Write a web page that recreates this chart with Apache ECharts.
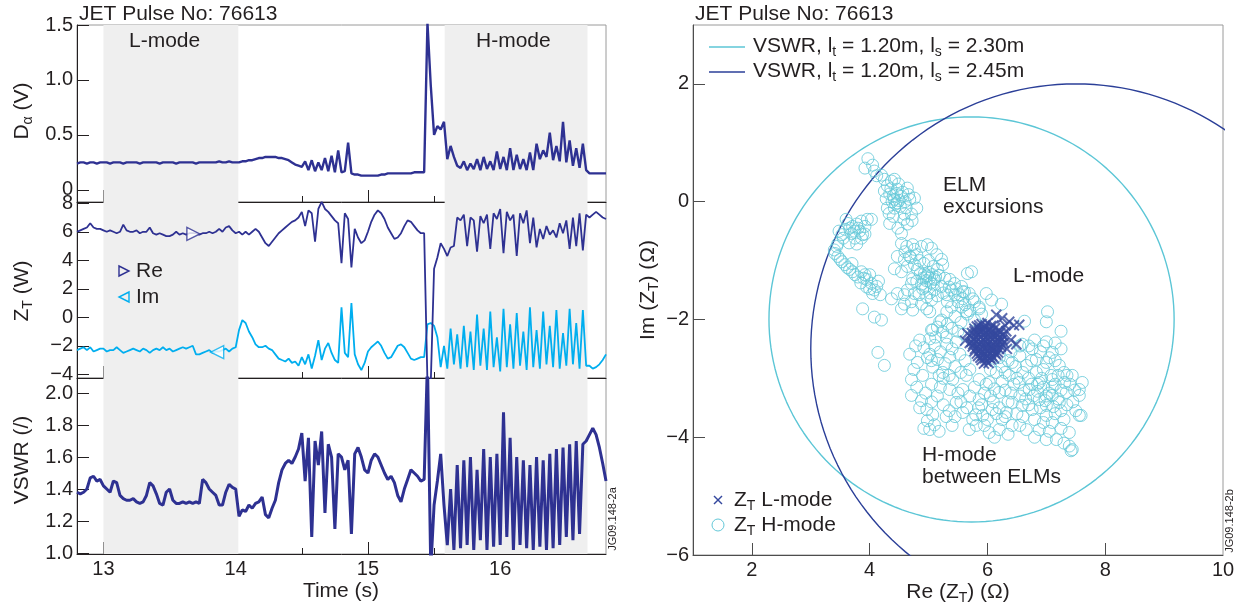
<!DOCTYPE html>
<html>
<head>
<meta charset="utf-8">
<script src="https://cdn.jsdelivr.net/npm/echarts@6/dist/echarts.min.js"></script>
<style>
  html, body { margin: 0; padding: 0; background: #fff; }
  #chart { width: 1247px; height: 612px; }
</style>
</head>
<body>
<div id="chart"></div>
<script>
// time base of the left-hand traces (s)
const T0 = 12.8
const DT = 0.025

// D-alpha (V), one value per DT
const dalpha = [
  0.24, 0.25, 0.25, 0.24, 0.25, 0.25, 0.24, 0.25,
  0.25, 0.25, 0.24, 0.25, 0.25, 0.25, 0.24, 0.25,
  0.25, 0.25, 0.25, 0.24, 0.25, 0.25, 0.25, 0.25,
  0.25, 0.24, 0.25, 0.25, 0.25, 0.25, 0.24, 0.25,
  0.25, 0.25, 0.25, 0.25, 0.24, 0.25, 0.25, 0.25,
  0.25, 0.25, 0.25, 0.26, 0.25, 0.25, 0.26, 0.25,
  0.25, 0.25, 0.26, 0.26, 0.27, 0.27, 0.28, 0.29,
  0.29, 0.30, 0.30, 0.30, 0.30, 0.29, 0.29, 0.28,
  0.27, 0.25, 0.23, 0.22, 0.21, 0.26, 0.18, 0.27,
  0.17, 0.25, 0.18, 0.29, 0.17, 0.31, 0.16, 0.36,
  0.16, 0.17, 0.43, 0.15, 0.14, 0.14, 0.13, 0.13,
  0.13, 0.13, 0.13, 0.13, 0.14, 0.14, 0.15, 0.15,
  0.15, 0.15, 0.15, 0.15, 0.15, 0.15, 0.16, 0.16,
  0.16, 0.16, 1.52, 0.95, 0.50, 0.58, 0.55, 0.62,
  0.28, 0.40, 0.30, 0.22, 0.20, 0.26, 0.18, 0.24,
  0.19, 0.28, 0.18, 0.30, 0.19, 0.26, 0.18, 0.35,
  0.19, 0.30, 0.18, 0.38, 0.18, 0.32, 0.19, 0.28,
  0.18, 0.34, 0.18, 0.42, 0.28, 0.36, 0.30, 0.52,
  0.27, 0.40, 0.26, 0.62, 0.25, 0.45, 0.22, 0.38,
  0.20, 0.42, 0.18, 0.15, 0.15, 0.15, 0.15, 0.15,
  0.15
]

// Re(Z_T)
const zRe = [
  6.0, 6.1, 6.2, 6.3, 6.6, 6.3, 6.2, 6.2,
  6.1, 6.0, 6.1, 6.0, 5.9, 6.0, 6.5, 6.1,
  6.0, 6.0, 6.1, 5.9, 6.0, 6.0, 6.3, 5.9,
  5.8, 5.9, 5.8, 5.7, 5.7, 5.8, 6.0, 5.8,
  5.9, 5.8, 5.9, 5.9, 5.9, 5.8, 5.9, 5.9,
  6.0, 5.9, 6.0, 6.2, 6.0, 6.3, 6.4, 6.1,
  5.9, 6.0, 5.8, 6.0, 5.8, 6.0, 6.2, 6.0,
  5.6, 5.2, 5.0, 5.3, 5.6, 5.9, 6.1, 6.3,
  6.5, 6.7, 6.8, 7.0, 7.4, 6.4, 7.5, 7.3,
  5.3, 7.6, 8.1, 7.6, 7.4, 7.1, 6.8, 6.6,
  3.8, 7.3, 6.9, 3.5, 6.2, 5.6, 5.2, 5.4,
  6.0, 6.7, 7.2, 7.5, 7.3, 6.9, 6.3, 5.9,
  5.5, 5.6, 5.9, 6.4, 6.8, 6.7, 6.4, 6.1,
  5.9, 5.9, -4.6, -4.6, 3.4, 4.2, 5.2, 4.8,
  4.3, 4.9, 5.0, 7.0, 6.8, 7.2, 5.0, 7.0,
  6.8, 4.6, 7.1, 6.6, 7.2, 4.8, 7.3, 6.9,
  7.6, 4.5, 7.4, 6.8, 7.2, 4.3, 7.3, 6.6,
  7.5, 5.2, 7.0, 4.9, 6.2, 5.5, 6.4, 5.8,
  6.1, 5.6, 6.6, 5.9, 6.8, 4.8, 7.0, 5.0,
  7.3, 4.7, 7.2, 7.0, 7.2, 7.4, 7.2, 7.0,
  6.9
]

// Im(Z_T)
const zIm = [
  -2.3, -2.2, -2.1, -2.3, -2.1, -2.4, -2.3, -2.2,
  -2.2, -2.4, -2.3, -2.3, -2.1, -2.3, -2.5, -2.4,
  -2.3, -2.2, -2.3, -2.4, -2.2, -2.3, -2.5, -2.3,
  -2.2, -2.3, -2.1, -2.3, -2.2, -2.4, -2.3, -2.2,
  -2.1, -2.2, -2.1, -2.0, -2.6, -2.6, -2.5, -2.4,
  -2.3, -2.5, -2.4, -2.4, -2.3, -2.2, -2.4, -2.2,
  -2.1, -0.9, -0.2, -0.4, -1.0, -1.4, -1.9, -2.1,
  -2.1, -2.0, -2.2, -2.3, -2.6, -2.9, -3.0, -3.1,
  -2.9, -3.2, -3.1, -3.4, -2.8, -3.3, -2.6, -3.6,
  -2.7, -1.6, -3.0, -2.2, -1.8, -2.5, -3.0, -3.2,
  0.7, -2.5, -2.8, 1.0, -2.6, -3.3, -3.7, -3.2,
  -2.4, -2.1, -1.9, -1.7, -2.0, -2.5, -2.9, -2.8,
  -2.4, -2.0, -1.9, -2.1, -2.5, -2.9, -3.0, -2.9,
  -2.8, -2.8, -0.5, -0.4, -0.6, -1.4, -3.5, -2.0,
  -3.6, -0.8, -3.3, -1.2, -3.6, -0.6, -3.5, -1.0,
  -3.7, 0.2, -3.4, -0.8, -3.7, 0.4, -3.5, -1.4,
  -3.8, 0.6, -3.5, -0.5, -3.6, 0.3, -3.4, -1.0,
  -3.7, 0.7, -3.5, -0.9, -3.6, 0.4, -3.3, -0.6,
  -3.5, 0.5, -3.6, -1.1, -3.4, 0.6, -3.3, -0.4,
  -3.6, 0.5, -3.4, -3.4, -3.6, -3.5, -3.3, -3.0,
  -2.6
]

// VSWR
const vswr = [
  1.38, 1.37, 1.38, 1.40, 1.47, 1.48, 1.45, 1.46,
  1.42, 1.40, 1.38, 1.45, 1.44, 1.36, 1.34, 1.33,
  1.33, 1.34, 1.32, 1.31, 1.32, 1.36, 1.44, 1.42,
  1.37, 1.31, 1.30, 1.38, 1.40, 1.33, 1.31, 1.31,
  1.32, 1.31, 1.32, 1.31, 1.32, 1.31, 1.46, 1.44,
  1.40, 1.38, 1.36, 1.30, 1.30, 1.38, 1.43, 1.41,
  1.40, 1.23, 1.27, 1.26, 1.30, 1.28, 1.31, 1.32,
  1.35, 1.24, 1.22, 1.28, 1.33, 1.44, 1.52, 1.56,
  1.58, 1.56, 1.60, 1.65, 1.75, 1.45, 1.72, 1.10,
  1.70, 1.55, 1.76, 1.25, 1.68, 1.60, 1.15, 1.62,
  1.60, 1.52, 1.58, 1.12, 1.62, 1.66, 1.60, 1.52,
  1.50, 1.58, 1.62, 1.60, 1.55, 1.50, 1.46, 1.48,
  1.44, 1.36, 1.32, 1.40, 1.46, 1.52, 1.50, 1.48,
  1.45, 1.46, 2.20, 0.90, 1.30, 1.45, 1.62, 1.30,
  1.05, 1.40, 1.02, 1.55, 1.03, 1.58, 1.05, 1.60,
  1.02, 1.52, 1.08, 1.65, 1.02, 1.60, 1.04, 1.62,
  1.05, 1.88, 1.10, 1.72, 1.02, 1.60, 1.05, 1.58,
  1.03, 1.55, 1.02, 1.60, 1.04, 1.58, 1.02, 1.62,
  1.03, 1.65, 1.05, 1.66, 1.10, 1.68, 1.08, 1.70,
  1.12, 1.68, 1.70, 1.74, 1.78, 1.74, 1.66, 1.56,
  1.45
]

// L-mode / H-mode windows (s)
const modeSpans = [[13.0, 14.02], [15.58, 16.66]]
const reMarker = [[13.68, 5.85]]
const imMarker = [[13.86, -2.45]]

const timeMajor = [13, 14, 15, 16]
const timeMinor = [13.5, 14.5, 15.5, 16.5]
const dalphaTicks = [0, 0.5, 1.0, 1.5]
const zTicks = [-4, -2, 0, 2, 4, 6, 8]
const vswrTicks = [1.0, 1.2, 1.4, 1.6, 1.8, 2.0]

// right panel: impedance plane
const reTicks = [2, 4, 6, 8, 10]
const imTicks = [-6, -4, -2, 0, 2]
const vswrCircles = [
  { name: 'ls230', cx: 5.73, cy: -2.0, r: 3.44, color: '#5cc6d6' },
  { name: 'ls245', cx: 7.5, cy: -2.5, r: 4.5, color: '#2b3f98' }
]

const lmodePoints = [
  [5.90, -2.08], [6.00, -2.06], [6.10, -2.10], [5.82, -2.12],
  [5.78, -2.16], [5.86, -2.15], [5.95, -2.14], [6.04, -2.16], [6.13, -2.15], [6.20, -2.18],
  [5.74, -2.23], [5.82, -2.22], [5.90, -2.21], [5.98, -2.23], [6.06, -2.22], [6.14, -2.24], [6.22, -2.22],
  [5.72, -2.30], [5.80, -2.29], [5.88, -2.31], [5.96, -2.30], [6.04, -2.29], [6.12, -2.31], [6.20, -2.30], [6.27, -2.28],
  [5.73, -2.38], [5.81, -2.37], [5.89, -2.39], [5.97, -2.38], [6.05, -2.37], [6.13, -2.39], [6.21, -2.38], [6.28, -2.40],
  [5.75, -2.46], [5.83, -2.45], [5.91, -2.47], [5.99, -2.46], [6.07, -2.45], [6.15, -2.47], [6.23, -2.46],
  [5.78, -2.54], [5.86, -2.53], [5.94, -2.55], [6.02, -2.54], [6.10, -2.53], [6.18, -2.56],
  [5.84, -2.62], [5.92, -2.61], [6.00, -2.63], [6.08, -2.62], [6.15, -2.60],
  [5.90, -2.69], [5.98, -2.71], [6.06, -2.68],
  [5.85, -2.26], [5.93, -2.34], [6.01, -2.42], [6.09, -2.50], [5.87, -2.42], [6.17, -2.34],
  [5.95, -2.58], [6.03, -2.19], [5.77, -2.34], [6.25, -2.34],
  [5.78, -2.20], [5.86, -2.19], [5.94, -2.18], [6.02, -2.27], [6.10, -2.26], [6.18, -2.26], [5.76, -2.42],
  [5.84, -2.34], [5.92, -2.26], [6.00, -2.34], [6.08, -2.33], [6.16, -2.42], [6.24, -2.42], [5.79, -2.50],
  [5.88, -2.50], [5.96, -2.50], [6.04, -2.50], [6.12, -2.49], [6.20, -2.50], [5.82, -2.58], [5.90, -2.57],
  [6.06, -2.58], [6.13, -2.57], [5.88, -2.65], [5.96, -2.66], [6.04, -2.65], [6.11, -2.66], [5.94, -2.75],
  [6.02, -2.74], [5.97, -2.10], [6.06, -2.11], [5.86, -2.10], [6.26, -2.26], [5.70, -2.40],
  [6.15, -1.92], [6.25, -1.98], [6.37, -2.04], [6.54, -2.09], [6.45, -2.10], [6.30, -2.10],
  [6.49, -2.42], [6.40, -2.35], [6.33, -2.50], [5.66, -2.24], [5.62, -2.36], [6.32, -2.20]
]

const hmodePoints = [
  [3.97, 0.73], [3.92, 0.57], [4.08, 0.52], [4.12, 0.44], [4.25, 0.38], [4.37, 0.35], [4.42, 0.38],
  [4.30, 0.27], [4.34, 0.13], [4.47, 0.21], [4.42, 0.04], [4.47, -0.02], [4.54, 0.09], [4.64, 0.23],
  [4.68, 0.04], [4.76, 0.06], [4.80, -0.11], [4.30, -0.11], [4.42, -0.11], [4.59, -0.21], [4.71, -0.21],
  [4.34, -0.37], [4.64, -0.38], [4.54, -0.54], [4.03, -0.30],
  [4.40, 0.10], [4.44, -0.04], [4.50, 0.02], [4.38, 0.00], [4.46, 0.14], [4.52, -0.08], [4.36, 0.22],
  [4.56, 0.16], [4.28, 0.05], [4.60, 0.00], [4.49, 0.30], [4.33, -0.20],
  [4.58, -0.30], [4.48, -0.45], [4.62, -0.10], [4.72, -0.32], [4.66, 0.12], [4.40, -0.25], [4.25, 0.18],
  [4.20, 0.45], [4.05, 0.62],
  [3.63, -0.37], [3.71, -0.42], [3.78, -0.38], [3.86, -0.33], [3.92, -0.42], [3.83, -0.50], [3.88, -0.56],
  [3.69, -0.54], [3.58, -0.47], [3.53, -0.56], [3.75, -0.62], [3.86, -0.62], [3.46, -0.71], [3.44, -0.76],
  [3.66, -0.45], [3.80, -0.45], [3.74, -0.50], [3.96, -0.30],
  [3.55, -0.62], [3.65, -0.70], [3.78, -0.72], [3.48, -0.50], [3.60, -0.30], [3.92, -0.55],
  [3.41, -0.88], [3.46, -0.93], [3.53, -1.02], [3.58, -1.07], [3.66, -1.15], [3.71, -1.19], [3.75, -1.24],
  [3.86, -1.19], [3.92, -1.24], [4.00, -1.24], [3.95, -1.32], [4.03, -1.39], [4.12, -1.44], [4.00, -1.48],
  [4.05, -1.56], [3.40, -0.82], [3.50, -0.98], [3.62, -1.12], [3.90, -1.30], [4.08, -1.50],
  [3.80, -1.28], [3.70, -1.05], [3.85, -1.38], [4.15, -1.35], [4.18, -1.58], [3.95, -1.45],
  [3.88, -1.82], [4.08, -1.96], [4.20, -2.01], [4.14, -2.56], [4.25, -2.78],
  [4.54, -0.71], [4.63, -0.76], [4.73, -0.73], [4.76, -0.81], [4.88, -0.76], [4.98, -0.73], [5.05, -0.79],
  [5.14, -0.90], [5.22, -0.98], [5.24, -1.07], [4.47, -0.93], [4.59, -0.98], [4.68, -0.93], [4.42, -1.14],
  [4.54, -1.19], [4.64, -1.10], [4.76, -1.07], [4.81, -1.15],
  [4.60, -0.85], [4.70, -0.95], [4.80, -0.90], [4.85, -1.00], [4.92, -1.05], [5.00, -1.00], [5.08, -1.10],
  [5.15, -1.15], [5.18, -1.25], [4.86, -1.22], [4.80, -1.35], [4.88, -1.40], [4.84, -1.58], [4.95, -1.45],
  [5.02, -1.55], [5.15, -1.60], [5.25, -1.55], [5.28, -1.30], [5.35, -1.45], [5.45, -1.58], [5.50, -1.70],
  [5.62, -1.75], [5.70, -1.85], [5.45, -1.95], [5.55, -2.05], [5.40, -2.15], [5.30, -2.30], [5.60, -2.25],
  [5.50, -2.20],
  [4.93, -1.22], [4.98, -1.26], [5.02, -1.30], [5.06, -1.24], [5.10, -1.32], [4.96, -1.34], [5.04, -1.38],
  [4.90, -1.30], [5.00, -1.20], [5.08, -1.40], [4.95, -1.28], [5.12, -1.28],
  [4.73, -1.31], [4.71, -1.39], [4.64, -1.50], [4.59, -1.58], [4.76, -1.56], [4.90, -1.48], [5.10, -1.50],
  [5.22, -1.44], [4.97, -1.62], [5.05, -1.67], [4.88, -1.74],
  [4.37, -1.65], [4.47, -1.56], [4.54, -1.82], [4.59, -1.74], [4.71, -1.70], [4.73, -1.84], [4.97, -1.82],
  [5.02, -1.87],
  [5.36, -1.32], [5.44, -1.39], [5.56, -1.44], [5.61, -1.53], [5.69, -1.56], [5.73, -1.19], [5.66, -1.22],
  [5.53, -1.58], [5.58, -1.65], [5.39, -1.50], [5.31, -1.58], [5.32, -1.70], [5.39, -1.79], [5.56, -1.79],
  [5.78, -1.70], [5.86, -1.79], [5.98, -1.56], [6.07, -1.67], [6.24, -1.74], [5.90, -1.91], [5.66, -1.91],
  [5.78, -2.01], [5.22, -2.01], [5.15, -2.13], [5.32, -2.08], [5.05, -2.18],
  [5.47, -1.48], [5.58, -1.53], [5.75, -1.65], [5.86, -1.82], [5.64, -1.87], [5.31, -1.87], [5.19, -2.04],
  [5.07, -2.18], [5.24, -2.21], [5.02, -2.33], [5.10, -2.44], [5.31, -2.42], [5.47, -2.38], [5.02, -2.59],
  [5.15, -2.68], [5.36, -2.64], [5.53, -2.59], [4.68, -2.59], [4.81, -2.73], [5.07, -2.81], [5.24, -2.90],
  [4.71, -3.02], [4.71, -3.29], [4.85, -3.50], [4.97, -3.53], [5.07, -3.62], [4.98, -3.72], [5.10, -3.79],
  [5.02, -3.87],
  [5.12, -2.30], [5.20, -2.55], [5.28, -2.75], [5.40, -2.50], [5.05, -2.70], [5.18, -2.95], [4.92, -2.48],
  [4.85, -2.35], [5.45, -2.80], [5.35, -2.95],
  [4.75, -2.85], [4.90, -2.95], [4.80, -3.15], [4.95, -3.25], [4.88, -3.38], [5.05, -3.10], [5.15, -3.30],
  [5.25, -3.45], [5.20, -3.15], [5.30, -3.65], [5.40, -3.80], [5.18, -3.90], [4.92, -3.85], [5.05, -3.40],
  [5.35, -3.55], [5.45, -3.65], [5.50, -3.25], [5.25, -3.00], [4.98, -2.65], [4.78, -2.45], [5.62, -2.70],
  [5.70, -2.85], [5.55, -2.90],
  [5.58, -3.19], [5.86, -3.36], [6.20, -3.24], [6.54, -3.07], [6.83, -2.90], [7.00, -2.73], [7.10, -2.56],
  [6.76, -2.50], [6.59, -2.42], [7.00, -2.38], [7.22, -2.78], [7.44, -2.95], [7.61, -3.07], [7.56, -3.19],
  [7.34, -3.24], [7.10, -3.29], [7.22, -3.41], [7.00, -3.46], [6.88, -3.36], [6.76, -3.53], [6.59, -3.46],
  [6.42, -3.41], [6.32, -3.58], [6.08, -3.53], [5.92, -3.63], [5.75, -3.70], [5.58, -3.58], [5.47, -3.41],
  [5.36, -3.19], [5.41, -3.02], [5.64, -2.95], [5.86, -3.02], [6.03, -3.07], [6.15, -2.90], [6.37, -2.95],
  [6.42, -2.73], [6.66, -2.78], [6.83, -2.68], [6.88, -3.07], [6.71, -3.19], [7.10, -3.02], [7.31, -3.07],
  [7.25, -2.50], [7.56, -3.29], [7.56, -3.63], [7.00, -3.63], [7.10, -3.75], [6.88, -3.87], [6.66, -3.87],
  [6.42, -3.80], [6.20, -3.87], [6.03, -3.92], [5.81, -3.80], [5.69, -3.87], [7.00, -4.04], [7.17, -4.04],
  [7.44, -4.21], [7.39, -3.92],
  [6.95, -3.15], [7.05, -3.25], [7.15, -3.10], [6.85, -3.22], [7.20, -3.35], [6.98, -3.38], [7.08, -2.95],
  [6.92, -3.00], [7.25, -3.20], [6.78, -3.30], [7.12, -3.48], [6.70, -3.00], [7.30, -2.90], [6.62, -3.20],
  [7.40, -3.10], [7.35, -3.45],
  [5.70, -3.30], [5.95, -3.25], [6.10, -3.40], [6.30, -3.20], [6.50, -3.60], [5.85, -3.50], [6.25, -3.70],
  [6.45, -3.10], [5.55, -3.40], [6.00, -3.70], [6.15, -3.60], [5.78, -3.15],
  [5.65, -3.50], [5.80, -3.62], [5.90, -3.45], [6.05, -3.30], [6.20, -3.50], [6.35, -3.40], [6.40, -3.25],
  [6.55, -3.30], [6.60, -3.65], [6.70, -3.45], [6.80, -3.70], [6.90, -3.50], [6.95, -3.75], [7.05, -3.90],
  [7.15, -3.60], [7.30, -3.70], [7.45, -3.40], [7.50, -3.55], [7.48, -3.20], [7.35, -2.95], [7.20, -2.95],
  [7.15, -2.70], [6.95, -2.85], [6.60, -2.90], [6.50, -3.00], [6.25, -3.05], [6.12, -3.18], [5.98, -3.10],
  [6.75, -3.10], [6.65, -3.35], [7.25, -3.55], [7.00, -3.30], [6.85, -3.10], [7.10, -3.15], [6.30, -3.65],
  [5.95, -3.80], [6.55, -3.80], [6.12, -4.00], [6.35, -3.95], [7.25, -3.85], [7.30, -4.10], [6.80, -4.00],
  [7.02, -1.87], [7.00, -2.04], [7.25, -2.20], [6.63, -2.03], [7.42, -4.23], [7.59, -3.63], [7.39, -4.15],
  [6.40, -2.55], [6.55, -2.62], [6.70, -2.45], [6.90, -2.55], [6.48, -2.80], [6.75, -2.70], [7.05, -2.65],
  [6.05, -2.85], [6.25, -2.80], [6.20, -2.65], [6.35, -2.70], [6.55, -2.45], [6.80, -2.35], [6.95, -2.45],
  [7.15, -2.40], [6.30, -2.90]
]

const FONT = '"Liberation Sans", Arial, Helvetica, sans-serif'
const INK = '#231f20'
const NAVY = '#2e3192'
const SKY = '#00aeef'
const HCYAN = '#63c8d8'
const LBLUE = '#34489e'
const TICK_FS = 20
const TEXT_FS = 21

const withTime = vals => vals.map((v, i) => [Math.round((T0 + i * DT) * 1000) / 1000, v])
const fmt1 = v => (v < 0 ? '\u2212' : '') + Math.abs(v).toFixed(1)
const fmtInt = v => (v < 0 ? '\u2212' : '') + Math.abs(v)

function circlePoints(c) {
  const pts = []
  for (let k = 0; k <= 180; k++) {
    const a = k * Math.PI / 90
    pts.push([c.cx + c.r * Math.cos(a), c.cy + c.r * Math.sin(a)])
  }
  return pts
}

const leftGrids = [
  { left: 77, width: 529, top: 25, height: 177 },
  { left: 77, width: 529, top: 202, height: 176 },
  { left: 77, width: 529, top: 378, height: 176 }
]
const gridBox = { show: true, borderColor: '#9a9a9a', borderWidth: 1, backgroundColor: 'transparent' }

function timeAxes(gi, showLabel) {
  return [{
    type: 'value', gridIndex: gi, min: 12.8, max: 16.8, position: 'bottom',
    axisLine: { onZero: false, lineStyle: { color: INK, width: 1 } },
    axisTick: { inside: true, length: 12, customValues: timeMajor, lineStyle: { color: INK } },
    axisLabel: { show: showLabel, customValues: timeMajor, margin: 5, color: INK, fontSize: TICK_FS, fontFamily: FONT },
    splitLine: { show: false }
  }, {
    type: 'value', gridIndex: gi, min: 12.8, max: 16.8, position: 'bottom',
    axisLine: { show: false, onZero: false },
    axisTick: { inside: true, length: 6, customValues: timeMinor, lineStyle: { color: INK } },
    axisLabel: { show: false },
    splitLine: { show: false }
  }]
}

function valueAxis(gi, min, max, ticks, formatter) {
  return {
    type: 'value', gridIndex: gi, min, max,
    axisLine: { show: true, onZero: false, lineStyle: { color: INK, width: 1 } },
    axisTick: { show: true, inside: true, length: 12, customValues: ticks, lineStyle: { color: INK } },
    axisLabel: { customValues: ticks, formatter, margin: 4, color: INK, fontSize: TICK_FS, fontFamily: FONT },
    splitLine: { show: false }
  }
}

function shading(xi, yi) {
  return {
    type: 'line', xAxisIndex: xi, yAxisIndex: yi, data: [], silent: true, z: 0,
    markArea: {
      silent: true,
      itemStyle: { color: '#efefef' },
      data: modeSpans.map(s => [{ xAxis: s[0] }, { xAxis: s[1] }])
    }
  }
}

function trace(xi, yi, vals, color, width) {
  return {
    type: 'line', xAxisIndex: xi, yAxisIndex: yi, data: withTime(vals),
    showSymbol: false, symbol: 'none', clip: true, z: 3,
    lineStyle: { color, width }
  }
}

const RICH = size => ({
  a: { fontSize: size, lineHeight: size + 5, fontFamily: FONT, fill: INK },
  s: { fontSize: Math.round(size * 0.68), lineHeight: Math.round(size * 0.68), verticalAlign: 'bottom', fontFamily: FONT, fill: INK }
})

function txt(x, y, text, size, opts = {}) {
  return {
    type: 'text', x, y, rotation: opts.rot || 0, silent: true, z: 50,
    style: {
      text, rich: RICH(size), fill: INK, fontSize: size, fontFamily: FONT,
      align: opts.align || 'left', verticalAlign: 'middle'
    }
  }
}

const graphics = [
  txt(79, 14, '{a|JET Pulse No: 76613}', TEXT_FS),
  txt(695, 14, '{a|JET Pulse No: 76613}', TEXT_FS),
  txt(129, 41, '{a|L-mode}', TEXT_FS),
  txt(476, 41, '{a|H-mode}', TEXT_FS),
  txt(22, 111, '{a|D}{s|\u03b1}{a| (V)}', TEXT_FS, { rot: Math.PI / 2, align: 'center' }),
  txt(22, 291, '{a|Z}{s|T}{a| (W)}', TEXT_FS, { rot: Math.PI / 2, align: 'center' }),
  txt(22, 460, '{a|VSWR (/)}', TEXT_FS, { rot: Math.PI / 2, align: 'center' }),
  txt(341, 591, '{a|Time (s)}', TEXT_FS, { align: 'center' }),
  txt(613, 519, '{a|JG09.148-2a}', 11, { rot: Math.PI / 2, align: 'center' }),
  txt(1230, 521, '{a|JG09.148-2b}', 11, { rot: Math.PI / 2, align: 'center' }),
  // Re / Im key
  { type: 'polygon', silent: true, z: 50, shape: { points: [[119, 266], [129, 271], [119, 276]] }, style: { fill: 'none', stroke: NAVY, lineWidth: 1.4 } },
  { type: 'polygon', silent: true, z: 50, shape: { points: [[129, 292], [119, 297], [129, 302]] }, style: { fill: 'none', stroke: SKY, lineWidth: 1.4 } },
  txt(136, 271, '{a|Re}', TEXT_FS),
  txt(136, 297, '{a|Im}', TEXT_FS),
  // right panel key
  { type: 'line', silent: true, z: 50, shape: { x1: 709, y1: 47, x2: 745, y2: 47 }, style: { stroke: vswrCircles[0].color, lineWidth: 1.5 } },
  { type: 'line', silent: true, z: 50, shape: { x1: 709, y1: 72, x2: 745, y2: 72 }, style: { stroke: vswrCircles[1].color, lineWidth: 1.5 } },
  txt(753, 46, '{a|VSWR, l}{s|t}{a| = 1.20m, l}{s|s}{a| = 2.30m}', TEXT_FS),
  txt(753, 71, '{a|VSWR, l}{s|t}{a| = 1.20m, l}{s|s}{a| = 2.45m}', TEXT_FS),
  { type: 'line', silent: true, z: 50, shape: { x1: 714, y1: 496, x2: 722, y2: 504 }, style: { stroke: LBLUE, lineWidth: 1.5 } },
  { type: 'line', silent: true, z: 50, shape: { x1: 722, y1: 496, x2: 714, y2: 504 }, style: { stroke: LBLUE, lineWidth: 1.5 } },
  { type: 'circle', silent: true, z: 50, shape: { cx: 718, cy: 525, r: 6 }, style: { fill: 'none', stroke: HCYAN, lineWidth: 1 } },
  txt(734, 500, '{a|Z}{s|T}{a| L-mode}', TEXT_FS),
  txt(734, 525, '{a|Z}{s|T}{a| H-mode}', TEXT_FS),
  // annotations
  txt(943, 185, '{a|ELM}', TEXT_FS),
  txt(943, 207, '{a|excursions}', TEXT_FS),
  txt(1013, 276, '{a|L-mode}', TEXT_FS),
  txt(922, 455, '{a|H-mode}', TEXT_FS),
  txt(922, 477, '{a|between ELMs}', TEXT_FS),
  txt(648, 290, '{a|Im (Z}{s|T}{a|) (\u03a9)}', TEXT_FS, { rot: Math.PI / 2, align: 'center' }),
  txt(958, 592, '{a|Re (Z}{s|T}{a|) (\u03a9)}', TEXT_FS, { align: 'center' })
]

const chart = echarts.init(document.getElementById('chart'), null, { renderer: 'canvas' })

chart.setOption({
  animation: false,
  backgroundColor: '#ffffff',
  textStyle: { fontFamily: FONT },
  grid: [
    Object.assign({}, leftGrids[0], gridBox),
    Object.assign({}, leftGrids[1], gridBox),
    Object.assign({}, leftGrids[2], gridBox),
    Object.assign({ left: 693, width: 530, top: 25, height: 530 }, gridBox)
  ],
  xAxis: [
    ...timeAxes(0, false),
    ...timeAxes(1, false),
    ...timeAxes(2, true),
    {
      type: 'value', gridIndex: 3, min: 1, max: 10,
      axisLine: { onZero: false, lineStyle: { color: '#4d4d4d', width: 1 } },
      axisTick: { inside: true, length: 12, customValues: [2, 4, 6, 8], lineStyle: { color: '#4d4d4d' } },
      axisLabel: { customValues: reTicks, margin: 5, color: INK, fontSize: TICK_FS, fontFamily: FONT },
      splitLine: { show: false }
    }
  ],
  yAxis: [
    valueAxis(0, -0.11, 1.5, dalphaTicks, v => (v === 0 ? '0' : v.toFixed(1))),
    valueAxis(1, -4.26, 8.09, zTicks, fmtInt),
    valueAxis(2, 0.994, 2.094, vswrTicks, fmt1),
    {
      type: 'value', gridIndex: 3, min: -6, max: 3,
      axisLine: { onZero: false, lineStyle: { color: '#4d4d4d', width: 1 } },
      axisTick: { inside: true, length: 12, customValues: imTicks, lineStyle: { color: '#4d4d4d' } },
      axisLabel: { customValues: imTicks, formatter: fmtInt, margin: 4, color: INK, fontSize: TICK_FS, fontFamily: FONT },
      splitLine: { show: false }
    }
  ],
  series: [
    shading(0, 0),
    shading(2, 1),
    shading(4, 2),
    trace(0, 0, dalpha, NAVY, 2.4),
    trace(2, 1, zIm, SKY, 1.8),
    trace(2, 1, zRe, NAVY, 1.8),
    trace(4, 2, vswr, NAVY, 3),
    {
      type: 'scatter', xAxisIndex: 2, yAxisIndex: 1, data: reMarker, z: 4,
      symbol: 'path://M0,0 L10,5 L0,10 Z', symbolSize: [13, 13],
      itemStyle: { color: '#ffffff', borderColor: NAVY, borderWidth: 1.4 }
    },
    {
      type: 'scatter', xAxisIndex: 2, yAxisIndex: 1, data: imMarker, z: 4,
      symbol: 'path://M10,0 L0,5 L10,10 Z', symbolSize: [13, 13],
      itemStyle: { color: '#ffffff', borderColor: SKY, borderWidth: 1.4 }
    },
    ...vswrCircles.map(c => ({
      type: 'line', name: c.name, xAxisIndex: 6, yAxisIndex: 3, data: circlePoints(c),
      showSymbol: false, symbol: 'none', clip: true, z: 2,
      lineStyle: { color: c.color, width: 1.4 }
    })),
    {
      type: 'scatter', xAxisIndex: 6, yAxisIndex: 3, data: hmodePoints, z: 3,
      symbol: 'circle', symbolSize: 12,
      itemStyle: { color: 'rgba(0,0,0,0)', borderColor: HCYAN, borderWidth: 1 }
    },
    {
      type: 'scatter', xAxisIndex: 6, yAxisIndex: 3, data: lmodePoints, z: 4,
      symbol: 'path://M0,0 L10,10 M10,0 L0,10', symbolSize: 10,
      itemStyle: { color: 'none', borderColor: LBLUE, borderWidth: 2 }
    }
  ],
  graphic: graphics
})
</script>
</body>
</html>
